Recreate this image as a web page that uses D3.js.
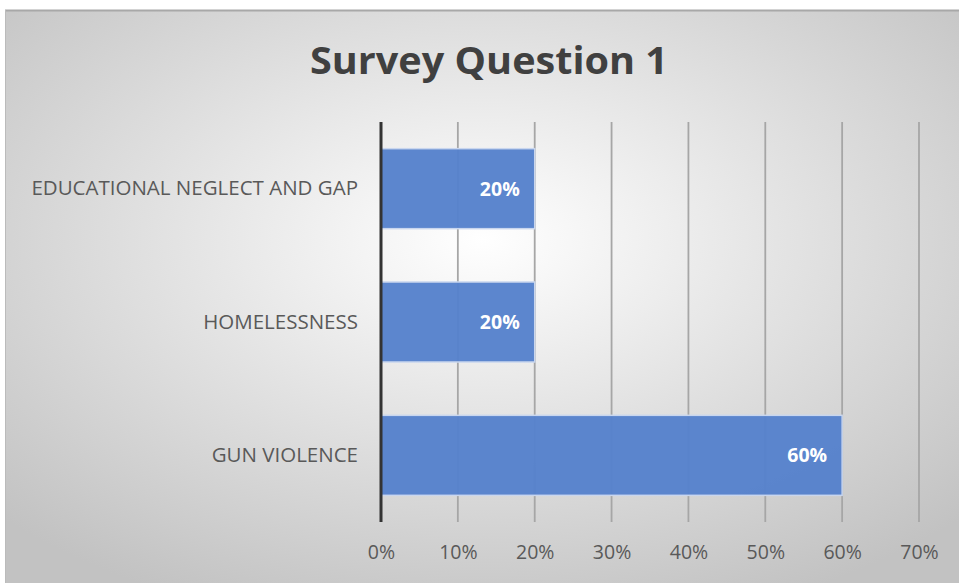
<!DOCTYPE html>
<meta charset="utf-8">
<style>
  body { margin: 0; background: #fff; }
  text { font-family: "Open Sans", "Noto Sans", sans-serif; }
</style>
<body>
<script src="https://d3js.org/d3.v7.min.js"></script>
<script>

// data
var categories = ["EDUCATIONAL NEGLECT AND GAP", "HOMELESSNESS", "GUN VIOLENCE"];
var values = [0.20, 0.20, 0.60];
var tickValues = [0, 0.1, 0.2, 0.3, 0.4, 0.5, 0.6, 0.7];

var W = 959, H = 583;
var margin = {top: 122, right: 40, bottom: 61, left: 381},
    width = 919 - margin.left,
    height = 522 - margin.top;

var svg = d3.select("body").append("svg")
    .attr("width", W)
    .attr("height", H);

// background gradient, white in the middle, grey at the edges
var defs = svg.append("defs");
var grad = defs.append("radialGradient")
    .attr("id", "bg")
    .attr("cx", "50%").attr("cy", "40%")
    .attr("r", "70%");
grad.append("stop").attr("offset", "0%").attr("stop-color", "#ffffff");
grad.append("stop").attr("offset", "100%").attr("stop-color", "#c2c2c2");

svg.append("rect")
    .attr("x", 5).attr("y", 10)
    .attr("width", W - 5).attr("height", H - 10)
    .attr("fill", "url(#bg)");
svg.append("line")
    .attr("x1", 5).attr("x2", W).attr("y1", 10.5).attr("y2", 10.5)
    .attr("stroke", "#a8a8a8").attr("stroke-width", 2);
svg.append("line")
    .attr("x1", 5.5).attr("x2", 5.5).attr("y1", 10).attr("y2", H)
    .attr("stroke", "#bbbbbb").attr("stroke-width", 1);

// title
svg.append("text")
    .attr("x", 489).attr("y", 74)
    .attr("text-anchor", "middle")
    .attr("font-size", "38px")
    .attr("font-weight", "bold")
    .attr("fill", "#404040")
    .attr("textLength", 358)
    .attr("lengthAdjust", "spacingAndGlyphs")
    .text("Survey Question 1");

var g = svg.append("g")
    .attr("transform", "translate(" + margin.left + "," + margin.top + ")");

// scales
var x = d3.scaleLinear()
    .domain([0, 0.7])
    .range([0, width]);

var y = d3.scaleBand()
    .domain(categories)
    .range([0, height])
    .paddingInner(0.4)
    .paddingOuter(0.2);

// gridlines
g.selectAll(".grid")
    .data(tickValues.slice(1))
  .enter().append("line")
    .attr("class", "grid")
    .attr("x1", function(d) { return x(d); })
    .attr("x2", function(d) { return x(d); })
    .attr("y1", 0)
    .attr("y2", height)
    .attr("stroke", "#a6a6a6")
    .attr("stroke-width", 1.8);

// bars
g.selectAll(".bar")
    .data(values)
  .enter().append("rect")
    .attr("class", "bar")
    .attr("x", x(0))
    .attr("y", function(d, i) { return y(categories[i]); })
    .attr("width", function(d) { return x(d) - x(0); })
    .attr("height", y.bandwidth())
    .attr("fill", "#5581cc")
    .attr("fill-opacity", 0.96)
    .attr("stroke", "#c9d6ee")
    .attr("stroke-width", 1.5);

// value labels
g.selectAll(".val")
    .data(values)
  .enter().append("text")
    .attr("class", "val")
    .attr("x", function(d) { return x(d) - 15; })
    .attr("y", function(d, i) { return y(categories[i]) + y.bandwidth() / 2; })
    .attr("dy", "0.36em")
    .attr("text-anchor", "end")
    .attr("font-size", "19.5px")
    .attr("font-weight", "bold")
    .attr("fill", "#ffffff")
    .text(function(d) { return Math.round(d * 100) + "%"; });

// category axis line
g.append("line")
    .attr("x1", 0).attr("x2", 0)
    .attr("y1", 0).attr("y2", height)
    .attr("stroke", "#333333")
    .attr("stroke-width", 3);

// category labels
var yAxis = g.append("g")
    .call(d3.axisLeft(y).tickSize(0).tickPadding(23));
yAxis.select(".domain").remove();
yAxis.selectAll("text")
    .attr("font-family", "'Open Sans', sans-serif")
    .attr("font-size", "20.5px")
    .attr("fill", "#595959");

// percent labels
var xAxis = g.append("g")
    .attr("transform", "translate(0," + height + ")")
    .call(d3.axisBottom(x).tickValues(tickValues).tickFormat(d3.format(".0%")).tickSize(0).tickPadding(23));
xAxis.select(".domain").remove();
xAxis.selectAll("text")
    .attr("font-family", "'Open Sans', sans-serif")
    .attr("font-size", "19.5px")
    .attr("fill", "#595959");

</script>
</body>
